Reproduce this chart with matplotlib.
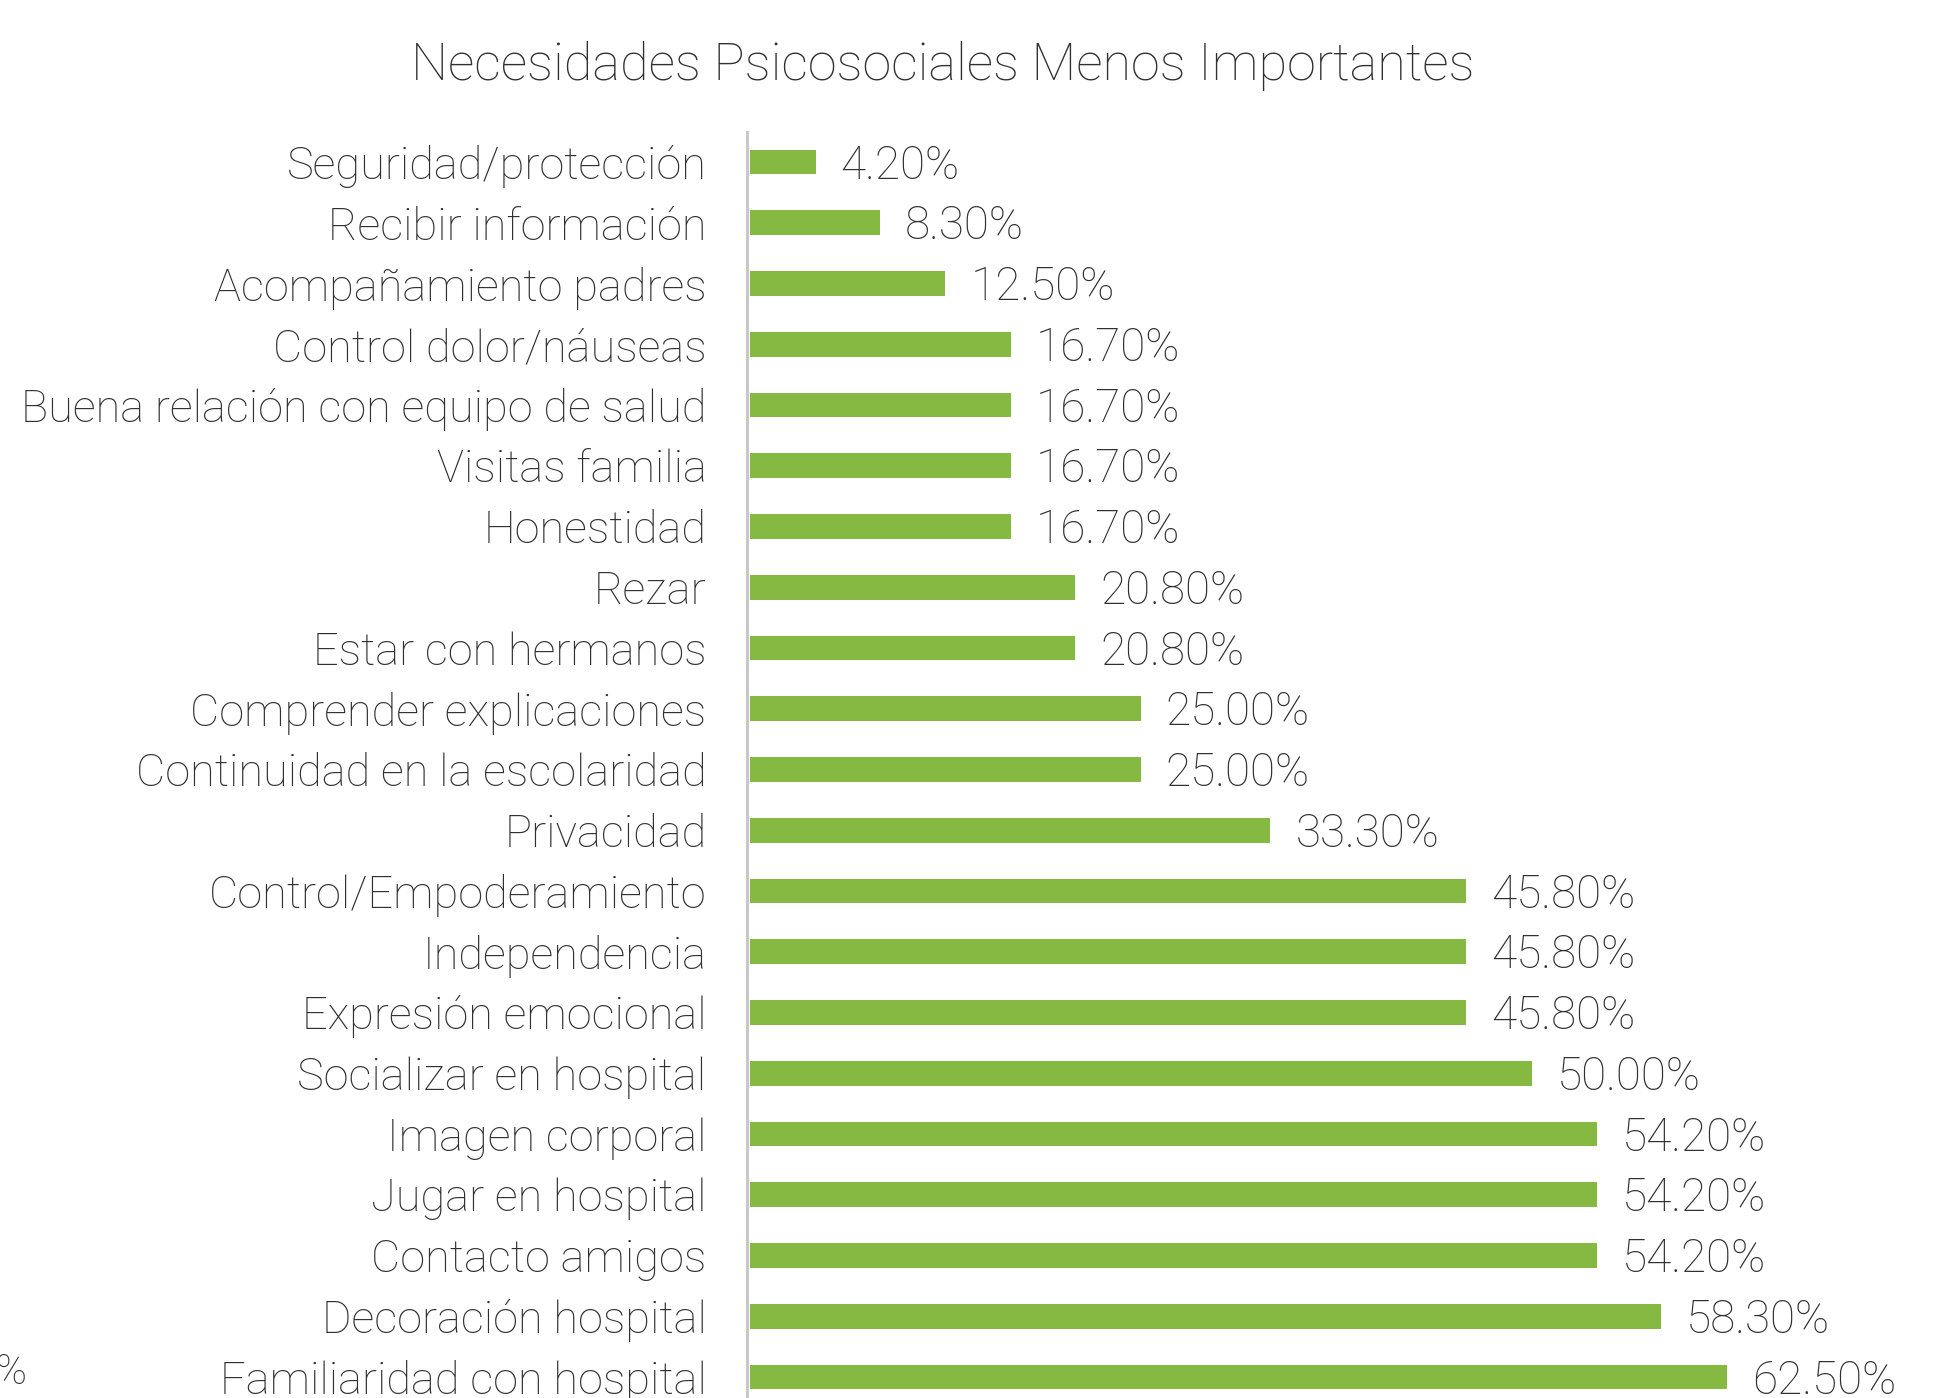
import matplotlib
matplotlib.use("Agg")
import matplotlib.pyplot as plt

title = "Necesidades Psicosociales Menos Importantes"
labels = [
    "Seguridad/protección", "Recibir información", "Acompañamiento padres",
    "Control dolor/náuseas", "Buena relación con equipo de salud", "Visitas familia",
    "Honestidad", "Rezar", "Estar con hermanos", "Comprender explicaciones",
    "Continuidad en la escolaridad", "Privacidad", "Control/Empoderamiento",
    "Independencia", "Expresión emocional", "Socializar en hospital",
    "Imagen corporal", "Jugar en hospital", "Contacto amigos",
    "Decoración hospital", "Familiaridad con hospital",
]
values = [4.2, 8.3, 12.5, 16.7, 16.7, 16.7, 16.7, 20.8, 20.8, 25.0, 25.0,
          33.3, 45.8, 45.8, 45.8, 50.0, 54.2, 54.2, 54.2, 58.3, 62.5]

GREEN = "#86b941"
TEXT = "#303030"
FONT = "Roboto"
WEIGHT = "light"

W, H = 1953, 1398
fig = plt.figure(figsize=(W / 100, H / 100), dpi=100)
fig.patch.set_facecolor("white")

# axes placed in pixels: zero line at x=750, rows 60.75 px apart, first row at y=162
row = 60.75
top_px = 162 - row / 2
bot_px = top_px + row * len(labels)
left_px, right_px = 750, 750 + 15.63 * 70
ax = fig.add_axes([left_px / W, 1 - bot_px / H, (right_px - left_px) / W, (bot_px - top_px) / H])

y = list(range(len(labels)))
ax.barh(y, values, height=0.41, color=GREEN)
ax.set_xlim(0, 70)
ax.set_ylim(len(labels) - 0.5, -0.5)

for yi, v in zip(y, values):
    ax.text(v + 1.6, yi + 0.06, f"{v:.2f}%", va="center", ha="left",
            fontsize=33, color=TEXT, family=FONT, fontweight=WEIGHT)

# spine setup first: set_position resets the ticks
for s in ["top", "right", "bottom"]:
    ax.spines[s].set_visible(False)
ax.spines["left"].set_position(("data", -0.2))
ax.spines["left"].set_color("#c8c8c8")
ax.spines["left"].set_linewidth(2.2)

ax.set_xticks([])
ax.set_yticks(y)
ax.set_yticklabels(labels, fontsize=32.5, color=TEXT, family=FONT, fontweight=WEIGHT)
ax.tick_params(axis="y", length=0, pad=29)

fig.text(943 / W, 1 - 66 / H, title, ha="center", va="center",
         fontsize=37.5, color=TEXT, family=FONT, fontweight=WEIGHT)
# stray percent sign clipped at the left edge (as in the source image)
fig.text(-4 / W, 1 - 1372 / H, "%", ha="left", va="center",
         fontsize=30, color=TEXT, family=FONT, fontweight=WEIGHT)

fig.savefig("out.png", dpi=100)
